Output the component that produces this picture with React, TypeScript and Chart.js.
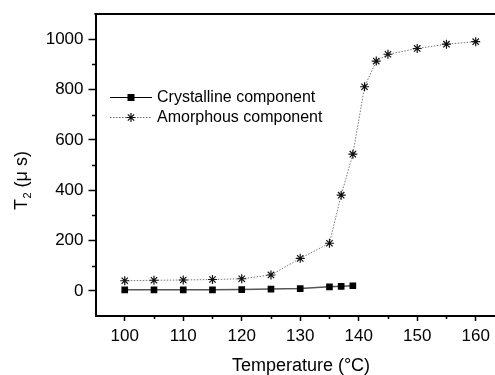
import { useEffect, useRef } from "react";
import { Chart, registerables } from "chart.js";

Chart.register(...registerables);

// Spin-spin relaxation time T2 versus temperature
const crystallineTemps = [100, 105, 110, 115, 120, 125, 130, 135, 137, 139];
const crystallineT2 = [4, 4, 4, 4, 5, 7, 9, 16, 18, 20];
const amorphousTemps = [100, 105, 110, 115, 120, 125, 130, 135, 137, 139, 141, 143, 145, 150, 155, 160];
const amorphousT2 = [40, 42, 43, 45, 48, 63, 129, 189, 380, 543, 811, 913, 940, 963, 980, 990];

const xMajorTicks = [100, 110, 120, 130, 140, 150, 160];
const yMajorTicks = [0, 200, 400, 600, 800, 1000];
const xMinorTicks = [95, 105, 115, 125, 135, 145, 155];
const yMinorTicks = [-100, 100, 300, 500, 700, 900, 1100];

const seriesNames = ["Crystalline component", "Amorphous component"];
const xTitle = "Temperature (°C)";
const yTitleMain = "T";
const yTitleSub = "2";
const yTitleUnit = " (\u03bc s)";

const FONT = "'Liberation Sans', Arial, Helvetica, sans-serif";

function drawAsterisk(ctx: CanvasRenderingContext2D, x: number, y: number, r: number) {
  ctx.beginPath();
  for (let i = 0; i < 4; i++) {
    const a = (i * Math.PI) / 4;
    ctx.moveTo(x - r * Math.cos(a), y - r * Math.sin(a));
    ctx.lineTo(x + r * Math.cos(a), y + r * Math.sin(a));
  }
  ctx.stroke();
}

const framePlugin = {
  id: "frame",
  afterDraw(chart: any) {
    const { ctx, chartArea, scales } = chart;
    const xs = scales.x;
    const ys = scales.y;
    ctx.save();

    // top frame line
    ctx.strokeStyle = "#000";
    ctx.lineWidth = 2;
    ctx.beginPath();
    ctx.moveTo(chartArea.left - 1, chartArea.top);
    ctx.lineTo(chartArea.right, chartArea.top);
    ctx.stroke();

    // minor ticks
    ctx.lineWidth = 1.5;
    ctx.beginPath();
    xMinorTicks.forEach((v) => {
      const px = Math.round(xs.getPixelForValue(v)) + 0.5;
      if (px < chartArea.left + 2) return;
      ctx.moveTo(px, chartArea.bottom);
      ctx.lineTo(px, chartArea.bottom + 3);
    });
    yMinorTicks.forEach((v) => {
      const py = Math.round(ys.getPixelForValue(v)) + 0.5;
      if (py < chartArea.top + 2 || py > chartArea.bottom - 2) return;
      ctx.moveTo(chartArea.left, py);
      ctx.lineTo(chartArea.left - 3.5, py);
    });
    ctx.stroke();

    // legend
    const lx0 = 110;
    const lx1 = 152;
    const mx = 131;
    const tx = 157;
    const rows = [97.5, 117.5];
    ctx.fillStyle = "#000";
    ctx.font = `16px ${FONT}`;
    ctx.textBaseline = "middle";
    ctx.textAlign = "left";

    ctx.strokeStyle = "#000";
    ctx.lineWidth = 1;
    ctx.setLineDash([]);
    ctx.beginPath();
    ctx.moveTo(lx0, rows[0]);
    ctx.lineTo(lx1, rows[0]);
    ctx.stroke();
    ctx.fillRect(mx - 3.5, rows[0] - 3.5, 7, 7);
    ctx.fillText(seriesNames[0], tx, rows[0] + 0.5);

    ctx.strokeStyle = "#666";
    ctx.setLineDash([1.5, 1.5]);
    ctx.beginPath();
    ctx.moveTo(lx0, rows[1]);
    ctx.lineTo(lx1, rows[1]);
    ctx.stroke();
    ctx.setLineDash([]);
    ctx.strokeStyle = "#111";
    ctx.lineWidth = 1.2;
    drawAsterisk(ctx, mx, rows[1], 4.5);
    ctx.fillText(seriesNames[1], tx, rows[1] + 0.5);

    // x axis title
    ctx.font = `18px ${FONT}`;
    ctx.textAlign = "center";
    ctx.textBaseline = "alphabetic";
    ctx.fillText(xTitle, 301, 371);

    // y axis title with subscript
    ctx.translate(27, 210);
    ctx.rotate(-Math.PI / 2);
    ctx.textAlign = "left";
    ctx.font = `18px ${FONT}`;
    ctx.fillText(yTitleMain, 0, 0);
    let off = ctx.measureText(yTitleMain).width + 0.5;
    ctx.font = `11px ${FONT}`;
    ctx.fillText(yTitleSub, off, 4);
    off += ctx.measureText(yTitleSub).width;
    ctx.font = `18px ${FONT}`;
    ctx.fillText(yTitleUnit, off, 0);

    ctx.restore();
  },
};

export default function App() {
  const canvasRef = useRef<HTMLCanvasElement | null>(null);

  useEffect(() => {
    const canvas = canvasRef.current;
    if (!canvas) return;
    const chart = new Chart(canvas, {
      type: "line",
      data: {
        datasets: [
          {
            label: seriesNames[0],
            data: crystallineTemps.map((t, i) => ({ x: t, y: crystallineT2[i] })),
            borderColor: "#555",
            borderWidth: 1.5,
            pointStyle: "rect",
            pointRadius: 4.7,
            pointBackgroundColor: "#000",
            pointBorderColor: "#000",
            pointBorderWidth: 0,
            tension: 0,
          },
          {
            label: seriesNames[1],
            data: amorphousTemps.map((t, i) => ({ x: t, y: amorphousT2[i] })),
            borderColor: "#777",
            borderWidth: 1,
            borderDash: [1.5, 1.5],
            pointStyle: "star",
            pointRadius: 4.5,
            pointBackgroundColor: "#000",
            pointBorderColor: "#111",
            pointBorderWidth: 1.2,
            tension: 0,
          },
        ],
      },
      options: {
        animation: false,
        responsive: false,
        devicePixelRatio: 1,
        layout: { padding: { top: 14, left: 0, right: 0, bottom: 0 }, autoPadding: false },
        plugins: {
          legend: { display: false },
          tooltip: { enabled: false },
        },
        scales: {
          x: {
            type: "linear",
            min: 95,
            max: 163.3,
            afterFit: (s: any) => {
              s.height = 59;
              s.paddingLeft = 0;
              s.paddingRight = 0;
            },
            afterBuildTicks: (s: any) => {
              s.ticks = xMajorTicks.map((v) => ({ value: v }));
            },
            grid: {
              display: true,
              drawOnChartArea: false,
              drawTicks: true,
              tickLength: 5,
              tickColor: "#000",
              tickWidth: 1.5,
            },
            border: { display: true, color: "#000", width: 2 },
            ticks: {
              color: "#000",
              font: { family: FONT, size: 17 },
              padding: 5,
              maxRotation: 0,
              autoSkip: false,
              callback: (v: any) => String(v),
            },
          },
          y: {
            type: "linear",
            min: -100,
            max: 1100,
            afterFit: (s: any) => {
              s.width = 95.5;
              s.paddingTop = 0;
              s.paddingBottom = 0;
            },
            afterBuildTicks: (s: any) => {
              s.ticks = yMajorTicks.map((v) => ({ value: v }));
            },
            grid: {
              display: true,
              drawOnChartArea: false,
              drawTicks: true,
              tickLength: 7,
              tickColor: "#000",
              tickWidth: 1.5,
            },
            border: { display: true, color: "#000", width: 2 },
            ticks: {
              color: "#000",
              font: { family: FONT, size: 17 },
              padding: 5,
              autoSkip: false,
              callback: (v: any) => String(v),
            },
          },
        },
      },
      plugins: [framePlugin],
    });
    return () => chart.destroy();
  }, []);

  return (
    <div style={{ position: "absolute", left: 0, top: 0, width: 495, height: 375, background: "#fff" }}>
      <canvas ref={canvasRef} width={495} height={375} />
    </div>
  );
}
